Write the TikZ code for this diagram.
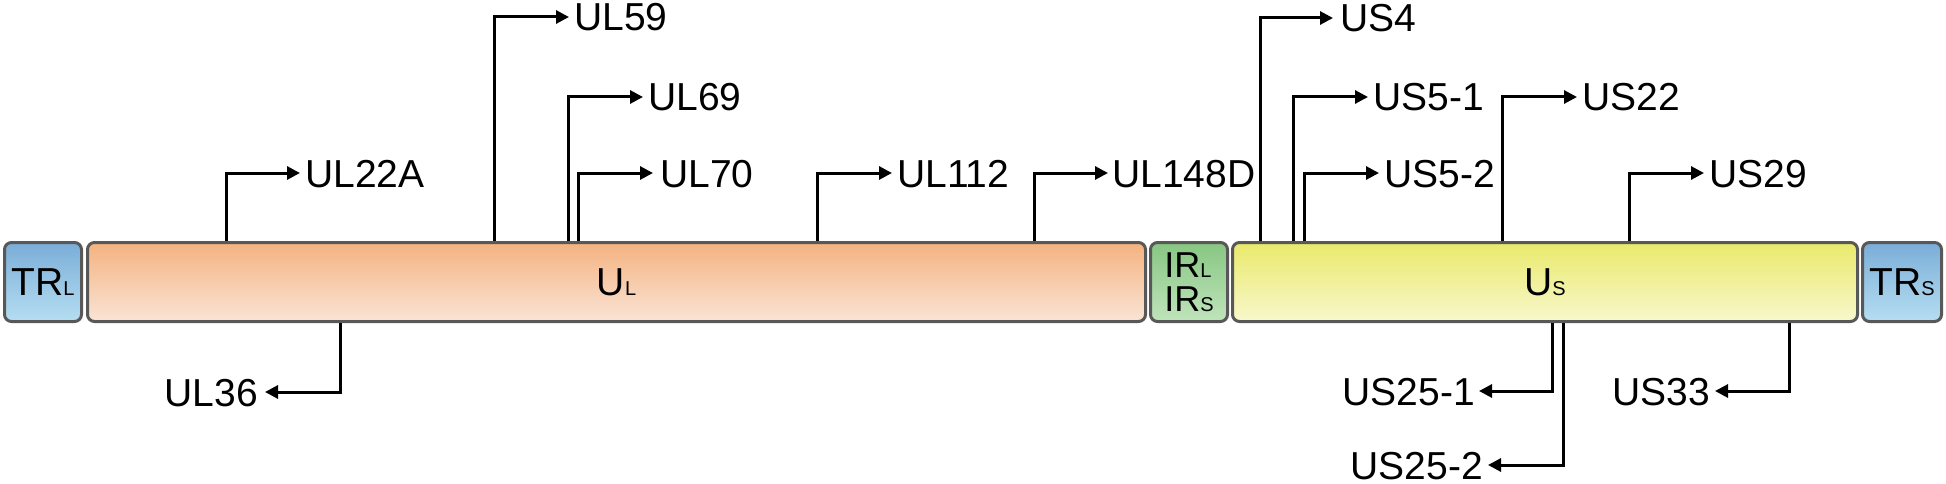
\documentclass[tikz,border=0pt]{standalone}
\usepackage{fontspec}
\setmainfont{Liberation Sans}
\usetikzlibrary{arrows.meta}
\definecolor{edgegray}{RGB}{88,88,88}
\definecolor{blueTop}{RGB}{122,173,215}
\definecolor{blueBot}{RGB}{182,222,242}
\definecolor{orangeTop}{RGB}{244,178,128}
\definecolor{orangeBot}{RGB}{250,228,214}
\definecolor{greenTop}{RGB}{135,198,130}
\definecolor{greenBot}{RGB}{192,228,188}
\definecolor{yellowTop}{RGB}{233,233,108}
\definecolor{yellowBot}{RGB}{248,248,204}
\newcommand{\smallsub}[1]{{\fontsize{20}{20}\selectfont #1}}
\begin{document}
\begin{tikzpicture}[x=1pt,y=-1pt,
  region/.style={draw=edgegray, line width=3pt, rounded corners=7pt, minimum height=79pt, inner sep=0pt, font=\fontsize{39}{39}\selectfont},
  lbl/.style={inner sep=0pt, text height=28pt, text depth=0pt, font=\fontsize{39}{39}\selectfont},
  arr/.style={line width=3pt, -{Triangle[length=13pt,width=13pt]}},
]
\useasboundingbox (0,0) rectangle (1946,484);

% genome regions
\node[region, top color=blueTop, bottom color=blueBot, minimum width=77pt] (TRL) at (43,282) {TR\smallsub{L}};
\node[region, top color=orangeTop, bottom color=orangeBot, minimum width=1058pt] (UL) at (616.5,282) {U\smallsub{L}};
\node[region, top color=greenTop, bottom color=greenBot, minimum width=77pt, align=left, font=\fontsize{36}{34}\selectfont] (IR) at (1189,282) {IR\smallsub{L}\\IR\smallsub{S}};
\node[region, top color=yellowTop, bottom color=yellowBot, minimum width=625pt] (US) at (1545,282) {U\smallsub{S}};
\node[region, top color=blueTop, bottom color=blueBot, minimum width=79pt] (TRS) at (1902,282) {TR\smallsub{S}};

% stem positions
\coordinate (sUL22A) at (226,0);
\coordinate (sUL59) at (494,0);
\coordinate (sUL69) at (568,0);
\coordinate (sUL70) at (578,0);
\coordinate (sUL112) at (817,0);
\coordinate (sUL148D) at (1034,0);
\coordinate (sUL36) at (340,0);
\coordinate (sUS4) at (1260,0);
\coordinate (sUS51) at (1293,0);
\coordinate (sUS52) at (1304,0);
\coordinate (sUS22) at (1502,0);
\coordinate (sUS29) at (1629,0);
\coordinate (sUS251) at (1552,0);
\coordinate (sUS252) at (1563,0);
\coordinate (sUS33) at (1789,0);

% labels above
\node[lbl, anchor=west] (ul22a) at (305,173) {UL22A};
\node[lbl, anchor=west] (ul59) at (574,17) {UL59};
\node[lbl, anchor=west] (ul69) at (648,97) {UL69};
\node[lbl, anchor=west] (ul70) at (660,173) {UL70};
\node[lbl, anchor=west] (ul112) at (897,173) {UL112};
\node[lbl, anchor=west] (ul148d) at (1112,173) {UL148D};
\node[lbl, anchor=west] (us4) at (1340,18) {US4};
\node[lbl, anchor=west] (us51) at (1373,97) {US5-1};
\node[lbl, anchor=west] (us22) at (1582,97) {US22};
\node[lbl, anchor=west] (us52) at (1384,173) {US5-2};
\node[lbl, anchor=west] (us29) at (1709,173) {US29};

% labels below
\node[lbl, anchor=east] (ul36) at (258,392) {UL36};
\node[lbl, anchor=east] (us251) at (1475,391) {US25-1};
\node[lbl, anchor=east] (us252) at (1483,465) {US25-2};
\node[lbl, anchor=east] (us33) at (1710,391) {US33};

% connectors above
\draw[arr] (sUL22A |- UL.north) |- ([xshift=-5pt]ul22a.west);
\draw[arr] (sUL59 |- UL.north) |- ([xshift=-5pt]ul59.west);
\draw[arr] (sUL69 |- UL.north) |- ([xshift=-5pt]ul69.west);
\draw[arr] (sUL70 |- UL.north) |- ([xshift=-7pt]ul70.west);
\draw[arr] (sUL112 |- UL.north) |- ([xshift=-5pt]ul112.west);
\draw[arr] (sUL148D |- UL.north) |- ([xshift=-4pt]ul148d.west);
\draw[arr] (sUS4 |- US.north) |- ([xshift=-7pt]us4.west);
\draw[arr] (sUS51 |- US.north) |- ([xshift=-5pt]us51.west);
\draw[arr] (sUS52 |- US.north) |- ([xshift=-5pt]us52.west);
\draw[arr] (sUS22 |- US.north) |- ([xshift=-5pt]us22.west);
\draw[arr] (sUS29 |- US.north) |- ([xshift=-5pt]us29.west);

% connectors below
\draw[arr] (sUL36 |- UL.south) |- ([xshift=7pt]ul36.east);
\draw[arr] (sUS251 |- US.south) |- ([xshift=4pt]us251.east);
\draw[arr] (sUS252 |- US.south) |- ([xshift=5pt]us252.east);
\draw[arr] (sUS33 |- US.south) |- ([xshift=5pt]us33.east);
\end{tikzpicture}
\end{document}
